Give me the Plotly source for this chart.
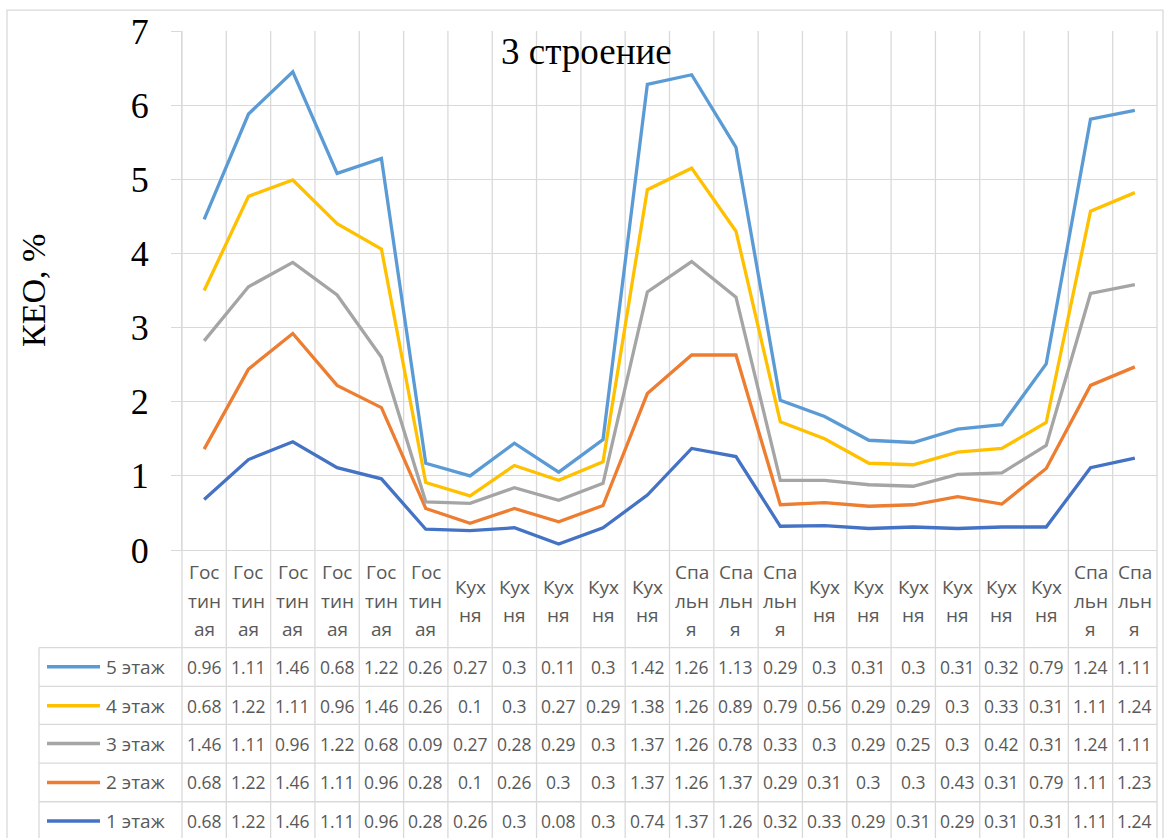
import numpy as np
import plotly.graph_objects as go

# ---- data ----
categories = (["Гос<br>тин<br>ая"] * 6 + ["Кух<br>ня"] * 5 + ["Спа<br>льн<br>я"] * 3
              + ["Кух<br>ня"] * 6 + ["Спа<br>льн<br>я"] * 2)
series_names = ["1 этаж", "2 этаж", "3 этаж", "4 этаж", "5 этаж"]
floor1 = [0.68, 1.22, 1.46, 1.11, 0.96, 0.28, 0.26, 0.3, 0.08, 0.3, 0.74, 1.37, 1.26, 0.32, 0.33, 0.29, 0.31, 0.29, 0.31, 0.31, 1.11, 1.24]
floor2 = [0.68, 1.22, 1.46, 1.11, 0.96, 0.28, 0.1, 0.26, 0.3, 0.3, 1.37, 1.26, 1.37, 0.29, 0.31, 0.3, 0.3, 0.43, 0.31, 0.79, 1.11, 1.23]
floor3 = [1.46, 1.11, 0.96, 1.22, 0.68, 0.09, 0.27, 0.28, 0.29, 0.3, 1.37, 1.26, 0.78, 0.33, 0.3, 0.29, 0.25, 0.3, 0.42, 0.31, 1.24, 1.11]
floor4 = [0.68, 1.22, 1.11, 0.96, 1.46, 0.26, 0.1, 0.3, 0.27, 0.29, 1.38, 1.26, 0.89, 0.79, 0.56, 0.29, 0.29, 0.3, 0.33, 0.31, 1.11, 1.24]
floor5 = [0.96, 1.11, 1.46, 0.68, 1.22, 0.26, 0.27, 0.3, 0.11, 0.3, 1.42, 1.26, 1.13, 0.29, 0.3, 0.31, 0.3, 0.31, 0.32, 0.79, 1.24, 1.11]
series_values = [floor1, floor2, floor3, floor4, floor5]
colors = ["#4472C4", "#ED7D31", "#A5A5A5", "#FFC000", "#5B9BD5"]
y_ticks = [0, 1, 2, 3, 4, 5, 6, 7]

# ---- layout geometry (pixels) ----
W, H = 1171, 838
L, R, T, B = 182, 14, 29, 288
PW, PH = W - L - R, H - T - B
x0_pix = L
y0_pix = H - B  # y=0 line


def px(p):
    return (p - x0_pix) / PW


def py(p):
    return (y0_pix - p) / PH


GRID = "#d9d9d9"
TXT = "#595959"
SERIF = "Liberation Serif"
SANS = "Open Sans"

n = len(categories)
xs = list(range(n))
stacked = np.cumsum(np.array(series_values), axis=0)

fig = go.Figure()
for name, vals, c in zip(series_names, stacked, colors):
    fig.add_trace(go.Scatter(x=xs, y=vals, mode="lines", name=name,
                             line=dict(color=c, width=3.3), showlegend=False))

shapes = []
annotations = []

table_bottom = 841
row_tops = [648, 687, 725, 764, 802.7]
row_h = 38.6

# vertical boundaries through plot and table
for k in range(1, n):
    shapes.append(dict(type="line", xref="x", yref="paper", x0=k - 0.5, x1=k - 0.5,
                       y0=py(table_bottom), y1=1, line=dict(color=GRID, width=1.3), layer="below"))
for xe in (0, 1):
    shapes.append(dict(type="line", xref="paper", yref="paper", x0=xe, x1=xe,
                       y0=py(table_bottom), y1=1, line=dict(color=GRID, width=1.3), layer="below"))
# legend column left border
shapes.append(dict(type="line", xref="paper", yref="paper", x0=px(39), x1=px(39),
                   y0=py(table_bottom), y1=py(row_tops[0]), line=dict(color=GRID, width=1.3)))
# horizontal table lines
for rt in row_tops:
    shapes.append(dict(type="line", xref="paper", yref="paper", x0=px(39), x1=1,
                       y0=py(rt), y1=py(rt), line=dict(color=GRID, width=1.3)))
# chart border
shapes.append(dict(type="rect", xref="paper", yref="paper", x0=px(7), x1=px(1163),
                   y0=py(845), y1=py(8), line=dict(color=GRID, width=1.3)))

# category labels (one annotation per line)
line_gap = 28.7
label_center = 601
for k, cat in enumerate(categories):
    parts = cat.split("<br>")
    m = len(parts)
    for i, part in enumerate(parts):
        yc = label_center + (i - (m - 1) / 2) * line_gap
        annotations.append(dict(x=k, y=py(yc), xref="x", yref="paper", text=part,
                                showarrow=False, xanchor="center", yanchor="middle",
                                font=dict(family=SANS, size=19, color=TXT)))

# data table rows (top row = 5 этаж)
for r, idx in enumerate(range(len(series_names) - 1, -1, -1)):
    yc = row_tops[r] + row_h / 2
    for k, v in enumerate(series_values[idx]):
        annotations.append(dict(x=k, y=py(yc), xref="x", yref="paper", text=f"{v:g}",
                                showarrow=False, xanchor="center", yanchor="middle",
                                font=dict(family=SANS, size=17.5, color=TXT)))
    shapes.append(dict(type="line", xref="paper", yref="paper", x0=px(47), x1=px(100),
                       y0=py(yc), y1=py(yc), line=dict(color=colors[idx], width=3.5)))
    annotations.append(dict(x=px(104), y=py(yc), xref="paper", yref="paper",
                            text=series_names[idx], showarrow=False, xanchor="left",
                            yanchor="middle", font=dict(family=SANS, size=19, color=TXT)))

# title and axis title
annotations.append(dict(x=px(586), y=py(50), xref="paper", yref="paper", text="3 строение",
                        showarrow=False, xanchor="center", yanchor="middle",
                        font=dict(family=SERIF, size=37, color="black")))
annotations.append(dict(x=px(34), y=py(290), xref="paper", yref="paper", text="КЕО, %",
                        showarrow=False, xanchor="center", yanchor="middle", textangle=-90,
                        font=dict(family=SERIF, size=34, color="black")))

fig.update_layout(
    width=W, height=H,
    margin=dict(l=L, r=R, t=T, b=B, pad=0),
    paper_bgcolor="white", plot_bgcolor="white",
    shapes=shapes, annotations=annotations,
    xaxis=dict(range=[-0.5, n - 0.5], showgrid=False, zeroline=False,
               showticklabels=False, showline=True, linecolor=GRID, linewidth=1.3,
               ticks=""),
    yaxis=dict(range=[0, 7], tickvals=y_ticks, showgrid=True, gridcolor=GRID, gridwidth=1.3,
               zeroline=False, showline=True, linecolor=GRID, linewidth=1.3,
               ticks="outside", ticklen=10, tickcolor=GRID, tickwidth=1.3,
               ticklabelstandoff=15,
               tickfont=dict(family=SERIF, size=36, color="black")),
)

fig.write_html("out.html", config={"displayModeBar": False},
               post_script="document.body.style.margin='0';document.body.style.overflow='hidden';")
